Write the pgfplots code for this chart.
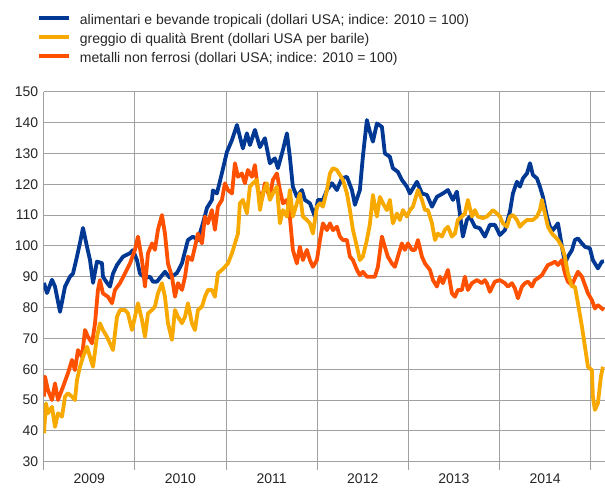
\documentclass[border=0pt]{standalone}
\usepackage{pgfplots}
\pgfplotsset{compat=1.18}
\usepackage{pgfplotstable}
\usepackage{fontspec}
\setmainfont{Liberation Sans}
\definecolor{cblue}{RGB}{0,56,148}
\definecolor{cyellow}{RGB}{247,169,0}
\definecolor{corange}{RGB}{255,80,0}
\definecolor{cgrid}{RGB}{160,160,160}

\pgfplotstableread{
x y
2009.003 88
2009.036 84.7
2009.091 89
2009.124 86.8
2009.179 78.6
2009.234 86.8
2009.288 90
2009.321 91
2009.365 96.5
2009.398 101
2009.431 105.8
2009.475 99.7
2009.508 95.4
2009.541 88
2009.584 94.9
2009.639 94.4
2009.650 90
2009.694 88
2009.727 86.8
2009.760 91
2009.804 93.8
2009.870 96.5
2009.946 97.6
2009.979 98.6
2010.023 95.4
2010.056 91
2010.111 89.6
2010.166 90
2010.198 88.4
2010.242 88.4
2010.330 91.6
2010.385 89.6
2010.462 91.2
2010.517 94.4
2010.582 101.9
2010.637 103
2010.692 101.9
2010.747 107.4
2010.791 112.3
2010.845 114.9
2010.856 118
2010.900 117
2010.955 123.6
2011.010 130.5
2011.065 134.3
2011.120 139.2
2011.152 135.4
2011.185 131.6
2011.229 136.5
2011.262 132.7
2011.317 137.6
2011.372 132
2011.426 134.9
2011.481 126.8
2011.536 128.4
2011.569 125.2
2011.624 131.1
2011.668 136.5
2011.700 128.9
2011.733 119.2
2011.777 115.9
2011.832 118.1
2011.865 114.9
2011.920 113.8
2011.975 109.5
2012.008 114.9
2012.063 114.9
2012.107 118.1
2012.162 120.3
2012.216 118.1
2012.271 121.9
2012.326 122.4
2012.381 118.1
2012.414 113.3
2012.468 118.1
2012.501 128.9
2012.545 140.8
2012.578 137
2012.611 133.8
2012.655 139.7
2012.710 138.6
2012.742 130
2012.797 128.9
2012.830 125.2
2012.885 124
2012.929 121.4
2012.984 119.2
2013.017 117
2013.094 120.8
2013.149 117
2013.204 116.5
2013.259 112.7
2013.313 115.9
2013.379 117
2013.434 118.1
2013.489 114.9
2013.532 117.6
2013.565 110.5
2013.598 103
2013.642 108.4
2013.675 109.5
2013.730 106.2
2013.784 105.7
2013.839 103
2013.894 106.8
2013.949 106.8
2014.004 103.5
2014.059 105.1
2014.114 111.1
2014.147 117
2014.191 120.8
2014.224 119.2
2014.257 121.9
2014.301 123.5
2014.334 126.8
2014.366 123
2014.410 121.9
2014.443 119.2
2014.476 115.9
2014.520 109.5
2014.553 106.2
2014.586 105.1
2014.641 107.3
2014.685 99.7
2014.717 94.3
2014.750 96.5
2014.794 98.6
2014.827 101.9
2014.860 102.4
2014.904 100.8
2014.937 99.7
2014.991 99.2
2015.024 95.4
2015.079 92.7
2015.123 94.9
2015.145 95
}\foodtable

\pgfplotstableread{
x y
2009.003 51.1
2009.014 57.6
2009.047 53.2
2009.091 50
2009.124 55.4
2009.157 50
2009.212 54.3
2009.266 58.7
2009.310 63
2009.343 59.7
2009.376 66.2
2009.420 64
2009.453 72.7
2009.486 70.5
2009.530 68.4
2009.563 74.9
2009.595 85.7
2009.617 88.9
2009.650 84.6
2009.705 83.5
2009.749 81.4
2009.782 85.7
2009.837 87.9
2009.892 91.1
2009.946 94.3
2010.001 98.7
2010.034 103
2010.078 95.4
2010.111 86.8
2010.144 97.6
2010.188 100.8
2010.220 98.7
2010.253 105.2
2010.297 110
2010.330 104
2010.363 94.3
2010.407 90
2010.440 83.5
2010.473 87.9
2010.517 85.7
2010.550 90
2010.582 96.5
2010.626 95.4
2010.659 99.7
2010.692 104
2010.736 100.8
2010.769 109.5
2010.801 107.3
2010.845 111.6
2010.878 105.2
2010.911 112.7
2010.955 114.9
2010.988 120.3
2011.021 118.1
2011.065 117
2011.098 126.8
2011.131 122.4
2011.174 123.5
2011.207 120.3
2011.240 124.6
2011.284 122.4
2011.317 126.2
2011.350 118.1
2011.393 114.9
2011.426 120.3
2011.448 118.1
2011.481 115.9
2011.514 121.4
2011.558 123.5
2011.591 118.1
2011.624 113.8
2011.668 114.9
2011.700 109.5
2011.733 98.7
2011.777 94.3
2011.810 99.7
2011.843 95.4
2011.887 98.7
2011.920 95.4
2011.953 93.2
2011.997 95.4
2012.030 101.9
2012.063 107.3
2012.107 105.1
2012.140 107.3
2012.173 105.1
2012.216 106.2
2012.249 103
2012.282 101.9
2012.326 101.9
2012.359 96.5
2012.392 95.4
2012.436 92.2
2012.468 90.5
2012.501 91.6
2012.545 90
2012.578 90
2012.633 90
2012.666 93.2
2012.710 103
2012.742 99.7
2012.775 96.5
2012.819 94.3
2012.852 93.2
2012.885 96.5
2012.929 100.8
2012.962 98.7
2012.995 100.8
2013.039 98.7
2013.072 98.7
2013.105 101.9
2013.149 96.5
2013.182 94.3
2013.237 92.2
2013.270 88.9
2013.313 86.8
2013.346 90
2013.379 87.9
2013.434 92.2
2013.478 84.6
2013.511 83.5
2013.543 85.7
2013.587 85.7
2013.620 90
2013.653 85.7
2013.697 87.9
2013.752 88.9
2013.806 87.9
2013.839 88.9
2013.861 87.9
2013.894 85.1
2013.949 88.4
2014.004 88.9
2014.059 87.9
2014.092 86.8
2014.136 87.9
2014.169 86.2
2014.202 83
2014.246 86.8
2014.279 87.9
2014.312 88.4
2014.355 86.8
2014.388 88.9
2014.421 89.5
2014.465 90.5
2014.498 92.2
2014.531 93.8
2014.575 94.3
2014.608 94.9
2014.641 93.8
2014.685 95.4
2014.717 91.1
2014.750 88.4
2014.794 87.3
2014.827 89.5
2014.860 91.6
2014.904 90
2014.937 87.3
2014.970 84.6
2015.013 82.4
2015.046 79.7
2015.079 80.8
2015.123 79.7
2015.145 79.2
}\metaltable

\pgfplotstableread{
x y
2009.003 39.2
2009.025 48.9
2009.047 45.7
2009.091 47.8
2009.124 41.3
2009.157 45.7
2009.201 44.6
2009.234 51.1
2009.266 52.2
2009.310 51.1
2009.343 50
2009.365 56.5
2009.398 60.8
2009.431 64
2009.475 67.3
2009.508 64
2009.541 60.8
2009.584 70.5
2009.617 74.9
2009.650 72.7
2009.694 70.5
2009.727 68.4
2009.760 66.2
2009.804 77
2009.837 79.2
2009.892 79.2
2009.924 78.1
2009.968 72.7
2010.001 77
2010.034 81.4
2010.078 76
2010.111 70.5
2010.144 78.1
2010.188 79.2
2010.220 80.3
2010.253 84.6
2010.297 87.9
2010.330 83.5
2010.363 74.9
2010.407 69.5
2010.440 79.2
2010.473 77
2010.517 74.9
2010.550 77
2010.582 81.4
2010.626 74.9
2010.659 72.7
2010.692 79.2
2010.736 80.3
2010.769 83.5
2010.801 85.7
2010.845 85.7
2010.878 83.5
2010.911 91.1
2010.955 92.2
2010.988 93.2
2011.021 94.3
2011.065 97.6
2011.098 100.8
2011.131 104
2011.152 113.8
2011.185 114.9
2011.229 110.5
2011.262 119.2
2011.295 120.3
2011.339 121.4
2011.372 111.6
2011.404 117
2011.448 120.3
2011.481 114.9
2011.514 117
2011.558 119.2
2011.591 107.3
2011.624 111.6
2011.668 109.5
2011.700 118.1
2011.733 109.5
2011.777 113.8
2011.810 117
2011.843 109.5
2011.887 108.4
2011.920 107.3
2011.953 104
2011.997 112.7
2012.030 113.8
2012.063 112.7
2012.107 118.1
2012.140 123.5
2012.173 125.2
2012.216 124.6
2012.249 123
2012.282 121.4
2012.326 117
2012.359 111.6
2012.392 105.2
2012.436 99.7
2012.468 95.4
2012.501 96.5
2012.545 101.9
2012.578 107
2012.611 116.5
2012.655 109.5
2012.688 115.9
2012.721 113.8
2012.764 111.6
2012.797 114.9
2012.830 107.3
2012.874 110.5
2012.907 108.4
2012.940 111.6
2012.984 109.5
2013.017 111.6
2013.050 112.7
2013.105 118.1
2013.149 114.9
2013.182 111.6
2013.215 111.6
2013.259 107.3
2013.292 101.9
2013.324 104
2013.368 103
2013.401 105.2
2013.434 106.2
2013.478 103
2013.511 104
2013.543 108.4
2013.587 109.5
2013.620 110.5
2013.653 114.9
2013.697 109.5
2013.730 111.6
2013.762 109.5
2013.817 109
2013.861 109.5
2013.894 110.5
2013.927 111.6
2013.971 110.5
2014.004 109.5
2014.037 107.3
2014.081 106.2
2014.114 109.5
2014.147 110
2014.191 108.4
2014.224 106.2
2014.257 107.3
2014.301 108.4
2014.366 108.4
2014.410 109.5
2014.443 111.6
2014.465 114.9
2014.498 110.5
2014.531 106.2
2014.575 104
2014.608 103
2014.641 101.9
2014.685 99.7
2014.717 96.5
2014.750 91.1
2014.794 86.8
2014.827 86.8
2014.860 81.4
2014.904 73.8
2014.937 67.3
2014.970 60.8
2015.013 59.7
2015.024 51.1
2015.046 46.8
2015.079 48.9
2015.112 57.6
2015.134 60.8
}\brenttable

\begin{document}
\begin{tikzpicture}
\useasboundingbox (-43.7pt,-28.3pt) rectangle (561.3pt,461.7pt);
\begin{axis}[
  scale only axis, width=561.3pt, height=370pt,
  xmin=2009, xmax=2015.157, ymin=30, ymax=150,
  axis x line*=bottom, axis y line*=left,
  axis line style={cgrid, line width=1pt},
  xtick={2009,2010,2011,2012,2013,2014,2015},
  x tick label as interval,
  xticklabels={2009,2010,2011,2012,2013,2014},
  ytick={30,40,...,150},
  grid=major, major grid style={cgrid, line width=1pt},
  tick align=outside, major tick length=8pt,
  ytick style={draw=none}, xtick style={cgrid, line width=1pt},
  tick label style={font=\fontsize{14}{16}\selectfont, text=black!85},
  /pgf/number format/assume math mode=true,
  yticklabel style={xshift=6pt},
  legend style={draw=none, fill=none, at={(axis description cs:0,1)}, anchor=north west,
    xshift=-7pt, yshift=77pt, font=\fontsize{14}{16}\selectfont, text=black!85,
    row sep=6pt, inner sep=0pt,
    nodes={inner sep=0pt, text height=10pt, text depth=3pt},
    /tikz/every odd column/.append style={column sep=9pt}},
  legend cell align=left,
  legend image code/.code={\draw[#1, line width=4pt] (0pt,3.5pt) -- (30pt,3.5pt);},
  every axis plot/.append style={line width=3.8pt, line join=round},
]
\addplot[cblue, forget plot] table[x=x,y=y] {\foodtable};
\addplot[corange, forget plot] table[x=x,y=y] {\metaltable};
\addplot[cyellow, forget plot] table[x=x,y=y] {\brenttable};
\addlegendimage{cblue}
\addlegendentry{alimentari e bevande tropicali (dollari USA; indice: 2010 = 100)}
\addlegendimage{cyellow}
\addlegendentry{greggio di qualità Brent (dollari USA per barile)}
\addlegendimage{corange}
\addlegendentry{metalli non ferrosi (dollari USA; indice: 2010 = 100)}
\end{axis}
\end{tikzpicture}
\end{document}
